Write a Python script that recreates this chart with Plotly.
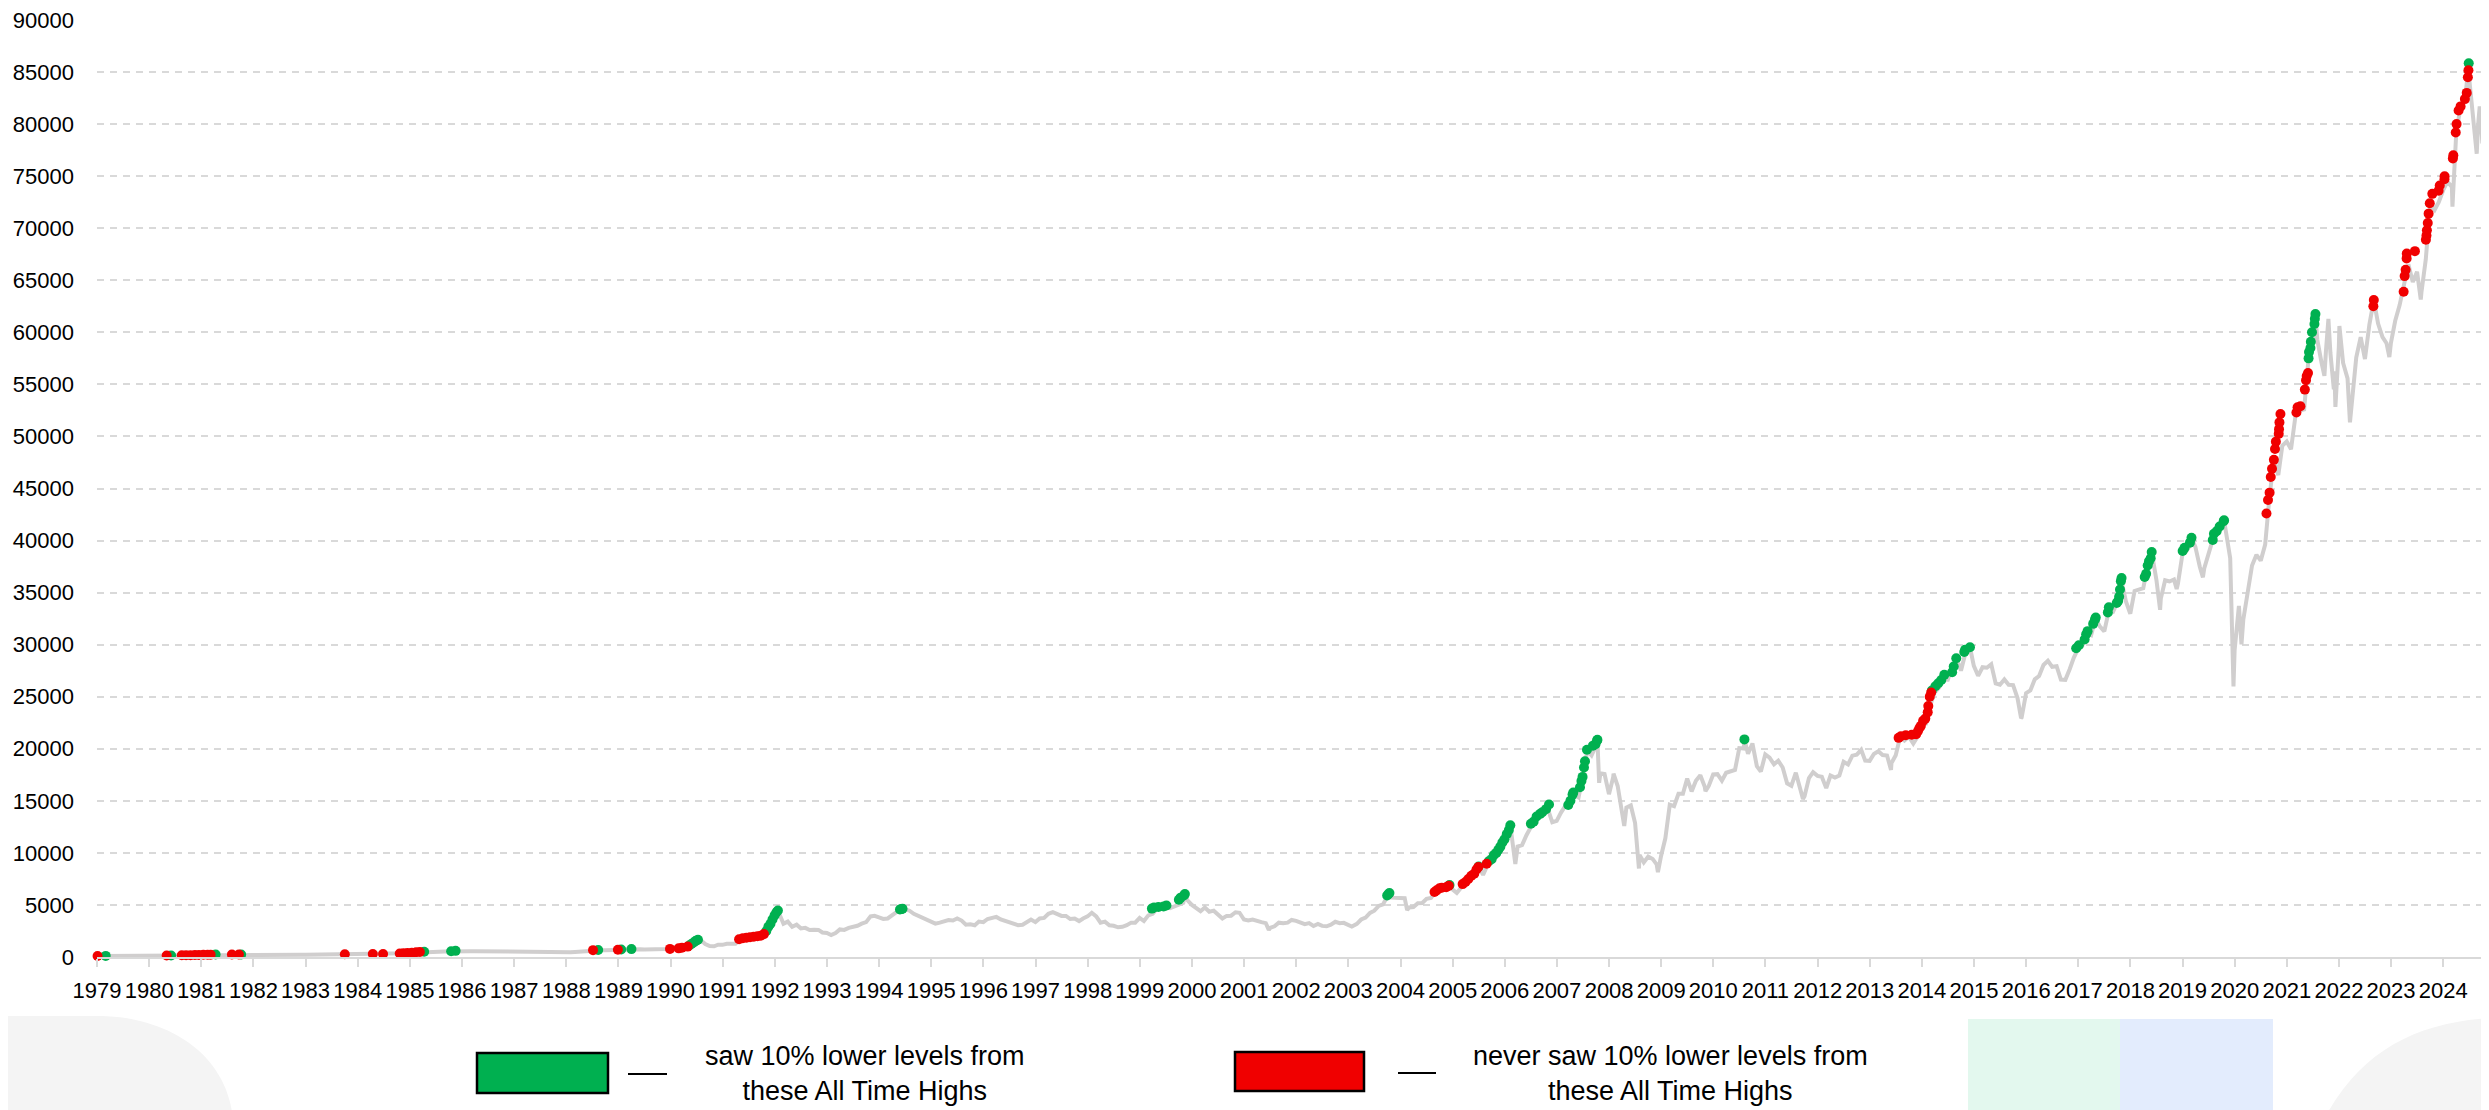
import pandas as pd
import plotly.graph_objects as go

# month-end index levels, Apr 1979 .. Dec 2024
sensex = [
    100, 104, 108, 110, 113, 116, 112, 110, 112,  # 1979 (Apr-Dec)
    115, 118, 121, 125, 128, 133, 138, 146, 152, 158, 165, 173,  # 1980
    180, 190, 200, 212, 222, 228, 236, 232, 226, 232, 240, 245,  # 1981
    245, 240, 230, 228, 232, 238, 235, 230, 225, 222, 220, 225,  # 1982
    222, 218, 212, 215, 220, 225, 228, 232, 236, 240, 242, 246,  # 1983
    268, 262, 258, 262, 265, 270, 278, 285, 290, 282, 285, 300,  # 1984
    330, 362, 392, 420, 450, 480, 505, 520, 530, 540, 535, 530,  # 1985
    550, 590, 580, 570, 560, 550, 545, 540, 530, 525, 515, 510,  # 1986
    500, 490, 470, 460, 450, 445, 440, 445, 450, 440, 430, 425,  # 1987
    420, 430, 440, 460, 480, 520, 560, 600, 640, 660, 650, 640,  # 1988
    660, 690, 700, 720, 710, 700, 760, 740, 730, 720, 710, 720,  # 1989
    740, 760, 780, 800, 830, 900, 1000, 1250, 1450, 1600, 1250, 1050,  # 1990
    1030, 1180, 1170, 1270, 1300, 1280, 1650, 1800, 1850, 1920, 2000, 2050,  # 1991
    2150, 2900, 3600, 4200, 3200, 3400, 2900, 3100, 2750, 2800, 2600, 2620,  # 1992
    2600, 2350, 2300, 2100, 2300, 2650, 2600, 2800, 2900, 3000, 3200, 3350,  # 1993
    3900, 3950, 3800, 3650, 3700, 4000, 4300, 4500, 4600, 4450, 4150, 3950,  # 1994
    3700, 3600, 3300, 3200, 3300, 3400, 3550, 3500, 3700, 3500, 3100, 3150,  # 1995
    3050, 3400, 3350, 3650, 3800, 3850, 3600, 3450, 3350, 3100, 3050, 3100,  # 1996
    3400, 3600, 3350, 3700, 3750, 4150, 4300, 4100, 3950, 3950, 3650, 3700,  # 1997
    3450, 3700, 3900, 4250, 3900, 3300, 3400, 3050, 3000, 2850, 2900, 3050,  # 1998
    3300, 3300, 3750, 3450, 4000, 4150, 4650, 4750, 4800, 4700, 4850, 5000,  # 1999
    5200, 5450, 5000, 4650, 4400, 4750, 4350, 4450, 4100, 3700, 3950, 3970,  # 2000
    4300, 4250, 3600, 3500, 3600, 3450, 3350, 3250, 2800, 2950, 3300, 3250,  # 2001
    3300, 3560, 3470, 3340, 3150, 3250, 2980, 3180, 2990, 2950, 3100, 3380,  # 2002
    3250, 3280, 3050, 2960, 3180, 3600, 3790, 4240, 4450, 4910, 5050, 5840,  # 2003
    5700, 5670, 5590, 5650, 4760, 4800, 5170, 5190, 5580, 5670, 6230, 6600,  # 2004
    6550, 6710, 6490, 6150, 6720, 7190, 7640, 7810, 8630, 7890, 8790, 9400,  # 2005
    9920, 10370, 11280, 12040, 10400, 10610, 10740, 11700, 12450, 13000, 13700, 13790,  # 2006
    14090, 12940, 13070, 13870, 14540, 14650, 15550, 15320, 17290, 19840, 19360, 20290,  # 2007
    17650, 17580, 15640, 17290, 16420, 13460, 14360, 14560, 12860, 9790, 9090, 9650,  # 2008
    9420, 8890, 9710, 11400, 14630, 14490, 15670, 15670, 17130, 15900, 16930, 17460,  # 2009
    16360, 16430, 17530, 17560, 16940, 17700, 17870, 17970, 20070, 20030, 19520, 20510,  # 2010
    18330, 17820, 19450, 19140, 18500, 18850, 18200, 16680, 16450, 17700, 16120, 15450,  # 2011
    17190, 17750, 17400, 17320, 16220, 17430, 17240, 17430, 18760, 18500, 19340, 19430,  # 2012
    19900, 18860, 18840, 19500, 19760, 19400, 19350, 18620, 19380, 21160, 20790, 21170,  # 2013
    20510, 21120, 22390, 22420, 24220, 25410, 25890, 26640, 26630, 27870, 28690, 27500,  # 2014
    29180, 29360, 27960, 27010, 27830, 27780, 28110, 26280, 26150, 26660, 26150, 26120,  # 2015
    24870, 23000, 25340, 25600, 26670, 26990, 28050, 28450, 27870, 27930, 26650, 26620,  # 2016
    27660, 28740, 29620, 29920, 31150, 30920, 32510, 31730, 31280, 33210, 33150, 34060,  # 2017
    35970, 34180, 32970, 35160, 35320, 35420, 37610, 38650, 36230, 34440, 36190, 36070,  # 2018
    36260, 35870, 38670, 39030, 39710, 39390, 37480, 37330, 38670, 40130, 40790, 41250,  # 2019
    40720, 38300, 29470, 33720, 32420, 34920, 37610, 38630, 38070, 39610, 44150, 47750,  # 2020
    46290, 49100, 49510, 48780, 51940, 52480, 52590, 57550, 59130, 59310, 57060, 58250,  # 2021
    58010, 56250, 58570, 57060, 55570, 53020, 57570, 59540, 57430, 60750, 63100, 60840,  # 2022
    59550, 58960, 58990, 61110, 62620, 64720, 66530, 64830, 65830, 63870, 66990, 72240,  # 2023
    71750, 72500, 73650, 74480, 73960, 79030, 81740, 82370, 84300, 79390, 79800, 78140,  # 2024
]

# intra-month highs and lows visible as spikes on the grey line
spike_dates = ["1992-04-22", "1994-09-12", "2000-02-11", "2001-09-21", "2003-04-25",
               "2004-01-14", "2004-05-17", "2006-05-10", "2006-06-14", "2008-01-10",
               "2008-01-22", "2008-05-02", "2008-07-16", "2008-10-27", "2009-03-09",
               "2010-02-05", "2010-11-05", "2011-12-20", "2013-08-28", "2015-03-04",
               "2016-02-25", "2018-01-29", "2018-08-28", "2018-10-26", "2019-02-19",
               "2019-06-03", "2019-08-22", "2020-01-17", "2020-03-23", "2020-05-18",
               "2021-10-18", "2021-12-20", "2022-01-17", "2022-02-24", "2022-03-07",
               "2022-04-04", "2022-06-17", "2022-12-01", "2023-03-20", "2023-10-26",
               "2024-06-04", "2024-09-27", "2024-11-21", "2024-12-12"]
spike_values = [4467, 4630, 6050, 2600, 2920,
                6150, 4500, 12620, 8930, 20870,
                16730, 17600, 12580, 8500, 8160,
                15920, 20900, 15180, 17970, 29750,
                22950, 36400, 38900, 33350, 35350,
                40260, 36470, 41950, 25980, 30030,
                61750, 55820, 61300, 54530, 52840,
                60610, 51360, 63100, 57630, 63150,
                72080, 85830, 77150, 81700]

# all time highs after which the index later fell 10% or more
green_dates = ["1979-06-01", "1980-09-01", "1981-07-10", "1982-01-05", "1985-07-10",
               "1986-01-15", "1986-02-15", "1988-11-10", "1989-04-20", "1989-07-01",
               "1990-08-10", "1990-08-25", "1990-09-10", "1990-09-25", "1990-10-10",
               "1992-02-01", "1992-02-15", "1992-03-01", "1992-03-15", "1992-03-30",
               "1992-04-12", "1992-04-22",
               "1994-08-25", "1994-09-05", "1994-09-12",
               "1999-06-25", "1999-07-10", "1999-08-10", "1999-09-15", "1999-10-05",
               "1999-12-31", "2000-01-12", "2000-02-04", "2000-02-11",
               "2003-12-29", "2004-01-08", "2004-01-14", "2005-03-10", "2005-09-30",
               "2005-12-10", "2005-12-30", "2006-01-15", "2006-02-01", "2006-02-15",
               "2006-03-01", "2006-03-15", "2006-03-30", "2006-04-15", "2006-04-30",
               "2006-05-10",
               "2006-10-01", "2006-10-20", "2006-11-10", "2006-12-05", "2006-12-20",
               "2007-01-15", "2007-02-05",
               "2007-06-20", "2007-07-05", "2007-07-20", "2007-07-25",
               "2007-09-10", "2007-09-20", "2007-09-28", "2007-10-08", "2007-10-15",
               "2007-10-29", "2007-12-10", "2007-12-28", "2008-01-08", "2008-01-10",
               "2010-11-05",
               "2014-06-10", "2014-07-05", "2014-07-25", "2014-08-15", "2014-09-05",
               "2014-10-30", "2014-11-10", "2014-11-28",
               "2015-01-23", "2015-01-29", "2015-03-04",
               "2017-03-17", "2017-04-05", "2017-05-15", "2017-05-26", "2017-06-05",
               "2017-07-14", "2017-07-26", "2017-08-01",
               "2017-10-25", "2017-11-01", "2017-12-26", "2018-01-05", "2018-01-12",
               "2018-01-18", "2018-01-24", "2018-01-29",
               "2018-07-10", "2018-07-20", "2018-07-31", "2018-08-09", "2018-08-21",
               "2018-08-28",
               "2019-04-02", "2019-04-15", "2019-05-23", "2019-06-03",
               "2019-10-30", "2019-11-07", "2019-11-26", "2019-12-17", "2020-01-14",
               "2020-01-17",
               "2021-08-31", "2021-09-03", "2021-09-13", "2021-09-16", "2021-09-24",
               "2021-10-11", "2021-10-14", "2021-10-18",
               "2024-09-26"]
green_values = [105, 148, 238, 248, 510,
                560, 590, 680, 720, 760,
                1100, 1250, 1400, 1550, 1650,
                2500, 2900, 3200, 3600, 4000,
                4300, 4460,
                4560, 4600, 4630,
                4650, 4750, 4800, 4850, 4950,
                5500, 5700, 5900, 6050,
                5900, 6050, 6150, 6910, 8700,
                9200, 9400, 9800, 10000, 10300,
                10600, 11000, 11300, 11800, 12200,
                12650,
                12800, 13000, 13500, 13750, 13900,
                14200, 14650,
                14600, 15000, 15600, 15800,
                16300, 16900, 17300, 18200, 18800,
                19900, 20300, 20450, 20800, 20870,
                20900,
                25600, 26000, 26300, 26600, 27100,
                27350, 27900, 28700,
                29300, 29500, 29750,
                29650, 29950, 30500, 31000, 31300,
                32000, 32400, 32600,
                33100, 33600, 34000, 34200, 34600,
                35300, 36100, 36400,
                36500, 36800, 37600, 38000, 38300,
                38900,
                39000, 39300, 39800, 40260,
                40050, 40650, 40900, 41350, 41850,
                41950,
                57500, 58100, 58500, 59100, 60000,
                60800, 61300, 61750,
                85850]

# all time highs from which the index never fell 10%
red_dates = ["1979-04-05", "1980-08-01",
             "1980-11-15", "1980-12-15", "1981-01-15", "1981-02-15", "1981-03-15",
             "1981-04-15", "1981-05-15", "1981-06-05", "1981-11-01", "1981-12-20",
             "1984-01-01", "1984-07-15", "1984-09-25",
             "1985-01-20", "1985-02-15", "1985-03-15", "1985-04-15", "1985-05-15",
             "1985-06-10",
             "1988-10-05", "1989-03-28",
             "1990-03-28", "1990-05-28", "1990-06-20", "1990-07-30",
             "1991-07-25", "1991-08-20", "1991-09-15", "1991-10-10", "1991-11-05",
             "1991-12-01", "1991-12-25", "1992-01-15",
             "2004-11-25", "2004-12-10", "2004-12-30", "2005-01-15", "2005-02-15",
             "2005-03-05",
             "2005-06-10", "2005-06-30", "2005-07-20", "2005-08-10", "2005-08-30",
             "2005-09-15", "2005-09-28", "2005-11-25",
             "2013-10-20", "2013-11-05", "2013-12-09", "2014-01-20", "2014-02-20",
             "2014-03-05", "2014-03-15", "2014-03-25", "2014-04-10", "2014-04-25",
             "2014-05-12", "2014-05-16", "2014-05-26", "2014-06-05",
             "2020-11-09", "2020-11-20", "2020-12-01", "2020-12-09", "2020-12-18",
             "2020-12-31", "2021-01-08", "2021-01-14", "2021-02-03", "2021-02-05",
             "2021-02-08", "2021-02-15",
             "2021-06-07", "2021-06-15", "2021-07-05", "2021-08-05", "2021-08-13",
             "2021-08-18", "2021-08-27",
             "2022-11-28", "2022-12-01",
             "2023-06-28", "2023-07-05", "2023-07-12", "2023-07-19", "2023-07-20",
             "2023-09-15",
             "2023-12-01", "2023-12-05", "2023-12-08", "2023-12-14", "2023-12-20",
             "2023-12-28",
             "2024-01-15", "2024-02-28", "2024-03-07", "2024-04-09", "2024-04-10",
             "2024-06-07", "2024-06-10", "2024-06-27", "2024-07-03", "2024-07-17",
             "2024-07-31", "2024-08-30", "2024-09-12", "2024-09-20", "2024-09-24"]
red_values = [100, 140,
              160, 170, 180, 190, 200,
              212, 222, 228, 240, 245,
              270, 280, 290,
              330, 360, 390, 420, 450,
              480,
              660, 700,
              780, 830, 900, 1000,
              1700, 1800, 1850, 1900, 1950,
              2000, 2050, 2200,
              6250, 6400, 6600, 6650, 6700,
              6850,
              7000, 7200, 7500, 7800, 8000,
              8400, 8650, 8950,
              21050, 21200, 21300, 21350, 21400,
              21700, 22000, 22200, 22700, 22900,
              23500, 24100, 25000, 25400,
              42600, 43900, 44600, 46100, 46900,
              47750, 48800, 49500, 50250, 50700,
              51350, 52150,
              52300, 52800, 52900, 54500, 55400,
              55800, 56100,
              62500, 63100,
              63900, 65400, 66000, 67100, 67570,
              67800,
              68900, 69300, 69800, 70500, 71400,
              72400,
              73300, 73600, 74100, 74700, 75000,
              76700, 77000, 79200, 80000, 81300,
              81700, 82400, 83000, 84500, 85170]

years = list(range(1979, 2025))

# build the grey line
month_ends = pd.date_range("1979-04-01", periods=len(sensex), freq="MS") + pd.offsets.MonthEnd(0)
line = pd.concat([
    pd.Series(sensex, index=month_ends),
    pd.Series(spike_values, index=pd.to_datetime(spike_dates)),
]).sort_index()

# page geometry: the html body adds an 8px margin around the figure
PAGE_W, PAGE_H, OFF = 2489, 1110, 8
PLOT_X0, PLOT_X1, PLOT_Y0, PLOT_Y1 = 97, 2486, 20, 957
W, H = PAGE_W - OFF, PAGE_H - OFF
L, T = PLOT_X0 - OFF, PLOT_Y0 - OFF
R, B = W - (PLOT_X1 - OFF), H - (PLOT_Y1 - OFF)
PW, PH = PLOT_X1 - PLOT_X0, PLOT_Y1 - PLOT_Y0


def px(x):
    return (x - PLOT_X0) / PW


def py(y):
    return (PLOT_Y1 - y) / PH


fig = go.Figure()
fig.add_trace(go.Scatter(
    x=line.index, y=line.values, mode="lines",
    line=dict(color="#D0CECE", width=4), hoverinfo="skip"
))
fig.add_trace(go.Scatter(
    x=pd.to_datetime(green_dates), y=green_values, mode="markers",
    marker=dict(color="#00B050", size=10), cliponaxis=False
))
fig.add_trace(go.Scatter(
    x=pd.to_datetime(red_dates), y=red_values, mode="markers",
    marker=dict(color="#F00000", size=10), cliponaxis=False
))

grey = "#F4F4F4"
shapes = [
    # soft background blobs at the bottom corners
    dict(type="path", xref="paper", yref="paper", layer="below", line_width=0, fillcolor=grey,
         path=f"M {px(0)},{py(1016)} L {px(103)},{py(1016)} "
              f"C {px(165)},{py(1018)} {px(222)},{py(1050)} {px(232)},{py(1112)} "
              f"L {px(0)},{py(1112)} Z"),
    dict(type="path", xref="paper", yref="paper", layer="below", line_width=0, fillcolor=grey,
         path=f"M {px(2328)},{py(1112)} C {px(2365)},{py(1048)} {px(2420)},{py(1022)} "
              f"{px(2492)},{py(1018)} L {px(2492)},{py(1112)} Z"),
    dict(type="rect", xref="paper", yref="paper", layer="below", line_width=0,
         fillcolor="#E3F8EE", x0=px(1968), x1=px(2120), y0=py(1112), y1=py(1019)),
    dict(type="rect", xref="paper", yref="paper", layer="below", line_width=0,
         fillcolor="#E3ECFD", x0=px(2120), x1=px(2273), y0=py(1112), y1=py(1019)),
    # legend swatches
    dict(type="rect", xref="paper", yref="paper", fillcolor="#00B050",
         line=dict(color="black", width=2.5),
         x0=px(477), x1=px(608), y0=py(1093), y1=py(1053)),
    dict(type="line", xref="paper", yref="paper", line=dict(color="black", width=2),
         x0=px(628), x1=px(667), y0=py(1074), y1=py(1074)),
    dict(type="rect", xref="paper", yref="paper", fillcolor="#F00000",
         line=dict(color="black", width=2.5),
         x0=px(1235), x1=px(1364), y0=py(1091), y1=py(1052)),
    dict(type="line", xref="paper", yref="paper", line=dict(color="black", width=2),
         x0=px(1398), x1=px(1436), y0=py(1073), y1=py(1073)),
]

label_font = dict(family="Liberation Sans, Arial, sans-serif", size=27, color="black")
annotations = [
    dict(xref="paper", yref="paper", x=px(865), y=py(1073), showarrow=False,
         xanchor="center", yanchor="middle", align="center", font=label_font,
         text="saw 10% lower levels from<br>these All Time Highs"),
    dict(xref="paper", yref="paper", x=px(1670), y=py(1073), showarrow=False,
         xanchor="center", yanchor="middle", align="center", font=label_font,
         text="never saw 10% lower levels from<br>these All Time Highs"),
]

tick_font = dict(family="Liberation Sans, Arial, sans-serif", size=22, color="black")
fig.update_layout(
    width=W, height=H,
    margin=dict(l=L, r=R, t=T, b=B, autoexpand=False),
    paper_bgcolor="white", plot_bgcolor="white",
    showlegend=False,
    shapes=shapes,
    annotations=annotations,
    xaxis=dict(
        type="date", range=["1979-04-01", "2025-01-25"],
        tickvals=[f"{y}-04-01" for y in years], ticktext=[str(y) for y in years],
        ticks="outside", ticklen=8, tickwidth=2, tickcolor="#D9D9D9",
        showline=True, linecolor="#D9D9D9", linewidth=2,
        showgrid=False, zeroline=False, tickfont=tick_font, ticklabelstandoff=5,
        ticklabeloverflow="allow",
    ),
    yaxis=dict(
        range=[0, 90000], dtick=5000, tickformat="d",
        showgrid=True, gridcolor="#D9D9D9", gridwidth=2, griddash="7px,6px",
        zeroline=False, showline=False, ticks="", tickfont=tick_font,
        ticklabelstandoff=22, ticklabeloverflow="allow",
    ),
)

fig.write_html("out.html")
